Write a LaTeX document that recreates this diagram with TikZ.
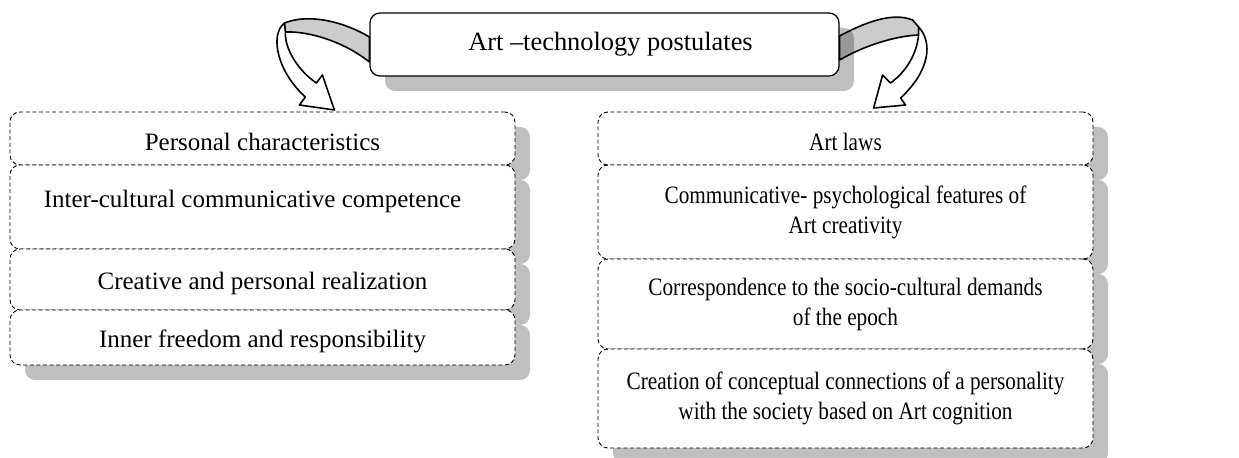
\documentclass[tikz,border=0pt]{standalone}
\usepackage{fontspec}
\setmainfont{Liberation Serif}
\newfontfamily\schmal[FakeStretch=0.85]{Liberation Serif}
\usetikzlibrary{positioning,shadows}

\begin{document}
\begin{tikzpicture}[x=0.5pt,y=-0.5pt,
		font=\fontsize{12.5}{15}\selectfont,
		schatten/.style={drop shadow={shadow xshift=7.5pt,shadow yshift=-7.5pt,fill=black!25,opacity=1}},
		kopf/.style={draw,line width=0.6pt,rounded corners=5pt,fill=white,minimum width=234.5pt,minimum height=31.5pt,font=\fontsize{13.2}{15}\selectfont,schatten},
		feld/.style={draw,line width=0.45pt,dash pattern=on 2pt off 1.3pt,rounded corners=5pt,fill=white,align=center,inner sep=0pt,outer sep=0pt,schatten},
		linksfeld/.style={feld,minimum width=252.5pt},
		rechtsfeld/.style={feld,minimum width=247.5pt,font=\schmal\fontsize{12.5}{15}\selectfont},
		band/.style={draw,line width=0.8pt,line join=round}]
		\useasboundingbox (0,0) rectangle (1239,458);
		
		% Oberbegriff
		\node[kopf] (post) at (604.5,44.5) {\hspace*{6pt}Art --technology postulates};
		
		% linke Spalte
		\node[linksfeld,minimum height=26.5pt,text height=12.5pt] (pers) at (262.5,138.5) {Personal characteristics};
		\node[linksfeld,minimum height=42pt,text depth=8pt,below=0pt of pers] (komp) {Inter-cultural communicative competence\hspace*{10pt}};
		\node[linksfeld,minimum height=30.5pt,text height=12.5pt,below=0pt of komp] (real) {Creative and personal realization};
		\node[linksfeld,minimum height=27.5pt,text height=12.5pt,below=0pt of real] (frei) {Inner freedom and responsibility};
		
		% rechte Spalte
		\node[rechtsfeld,minimum height=26.5pt,text height=12.5pt] (gesetz) at (845.5,138.5) {Art laws};
		\node[rechtsfeld,minimum height=47pt,below=0pt of gesetz] (psych) {Communicative- psychological features of\\Art creativity};
		\node[rechtsfeld,minimum height=45pt,below=0pt of psych] (epoche) {Correspondence to the socio-cultural demands\\of the epoch};
		\node[rechtsfeld,minimum height=49.5pt,below=0pt of epoche] (kogn) {Creation of conceptual connections of a personality\\with the society based on Art cognition};
		
		% linker Pfeil (post -> pers)
		\begin{scope}[shift={(post.west)}]
			\draw[band,fill=black,fill opacity=0.2] (0,-7.5) .. controls (-25,-22.5) and (-60,-31.5) .. (-85,-21.5)
				-- (-84,-12.5) .. controls (-60,-13.5) and (-25,-2.5) .. (0,17.5) -- cycle;
			\draw[band,fill=white] (-85,-21.5) .. controls (-100,-9.5) and (-92,27.5) .. (-64,52.5)
				-- (-70,60.5) -- (-35,65.5) -- (-47,30.5) -- (-53,38.5)
				.. controls (-72,25.5) and (-85,3.5) .. (-84,-12.5) -- cycle;
		\end{scope}
		
		% rechter Pfeil (post -> gesetz)
		\begin{scope}[shift={(post.east)}]
			\draw[band,fill=black,fill opacity=0.2] (0,-8.5) .. controls (26,-22.5) and (53,-32.5) .. (73,-24.5)
				-- (79,-17.5) -- (79,-9.5) .. controls (56,-8.5) and (26,0.5) .. (0,15.5) -- cycle;
			\draw[band,fill=white] (79,-17.5) .. controls (93,-2.5) and (91,25.5) .. (61,53.5)
				-- (66,60.5) -- (34,63.5) -- (43,30.5) -- (51,38.5)
				.. controls (66,27.5) and (77,10.5) .. (79,-9.5) -- cycle;
		\end{scope}
	\end{tikzpicture}
\end{document}
